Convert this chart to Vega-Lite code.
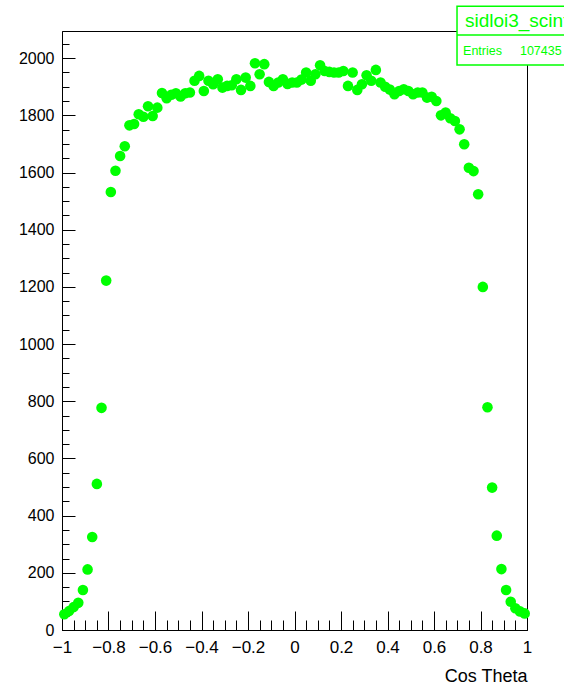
{
  "$schema": "https://vega.github.io/schema/vega-lite/v6.json",
  "width": 465,
  "height": 599,
  "autosize": {"type": "none"},
  "padding": {"left": 62, "top": 31, "right": 37, "bottom": 55},
  "background": "white",
  "config": {
    "view": {"stroke": "black", "strokeWidth": 1},
    "font": "Liberation Sans",
    "axis": {"domainColor": "black", "tickColor": "black", "labelColor": "black", "titleColor": "black", "grid": false, "labelFont": "Liberation Sans", "titleFont": "Liberation Sans"}
  },
  "datasets": {
    "hist": [
      {"x": -0.99, "n": 55}, {"x": -0.97, "n": 66}, {"x": -0.95, "n": 80}, {"x": -0.93, "n": 95}, {"x": -0.91, "n": 140},
      {"x": -0.89, "n": 212}, {"x": -0.87, "n": 325}, {"x": -0.85, "n": 511}, {"x": -0.83, "n": 777}, {"x": -0.81, "n": 1222},
      {"x": -0.79, "n": 1532}, {"x": -0.77, "n": 1606}, {"x": -0.75, "n": 1658}, {"x": -0.73, "n": 1692}, {"x": -0.71, "n": 1765},
      {"x": -0.69, "n": 1770}, {"x": -0.67, "n": 1804}, {"x": -0.65, "n": 1795}, {"x": -0.63, "n": 1832}, {"x": -0.61, "n": 1798},
      {"x": -0.59, "n": 1827}, {"x": -0.57, "n": 1878}, {"x": -0.55, "n": 1860}, {"x": -0.53, "n": 1872}, {"x": -0.51, "n": 1877},
      {"x": -0.49, "n": 1866}, {"x": -0.47, "n": 1877}, {"x": -0.45, "n": 1880}, {"x": -0.43, "n": 1921}, {"x": -0.41, "n": 1938},
      {"x": -0.39, "n": 1885}, {"x": -0.37, "n": 1921}, {"x": -0.35, "n": 1909}, {"x": -0.33, "n": 1926}, {"x": -0.31, "n": 1897},
      {"x": -0.29, "n": 1903}, {"x": -0.27, "n": 1905}, {"x": -0.25, "n": 1926}, {"x": -0.23, "n": 1889}, {"x": -0.21, "n": 1932},
      {"x": -0.19, "n": 1903}, {"x": -0.17, "n": 1982}, {"x": -0.15, "n": 1944}, {"x": -0.13, "n": 1979}, {"x": -0.11, "n": 1917},
      {"x": -0.09, "n": 1903}, {"x": -0.07, "n": 1915}, {"x": -0.05, "n": 1926}, {"x": -0.03, "n": 1910}, {"x": -0.01, "n": 1915},
      {"x": 0.01, "n": 1915}, {"x": 0.03, "n": 1925}, {"x": 0.05, "n": 1950}, {"x": 0.07, "n": 1921}, {"x": 0.09, "n": 1944},
      {"x": 0.11, "n": 1975}, {"x": 0.13, "n": 1955}, {"x": 0.15, "n": 1952}, {"x": 0.17, "n": 1950}, {"x": 0.19, "n": 1950},
      {"x": 0.21, "n": 1955}, {"x": 0.23, "n": 1903}, {"x": 0.25, "n": 1950}, {"x": 0.27, "n": 1889}, {"x": 0.29, "n": 1909},
      {"x": 0.31, "n": 1940}, {"x": 0.33, "n": 1921}, {"x": 0.35, "n": 1959}, {"x": 0.37, "n": 1915}, {"x": 0.39, "n": 1900},
      {"x": 0.41, "n": 1890}, {"x": 0.43, "n": 1874}, {"x": 0.45, "n": 1885}, {"x": 0.47, "n": 1891}, {"x": 0.49, "n": 1885},
      {"x": 0.51, "n": 1874}, {"x": 0.53, "n": 1880}, {"x": 0.55, "n": 1880}, {"x": 0.57, "n": 1862}, {"x": 0.59, "n": 1865},
      {"x": 0.61, "n": 1850}, {"x": 0.63, "n": 1800}, {"x": 0.65, "n": 1810}, {"x": 0.67, "n": 1790}, {"x": 0.69, "n": 1780},
      {"x": 0.71, "n": 1751}, {"x": 0.73, "n": 1699}, {"x": 0.75, "n": 1617}, {"x": 0.77, "n": 1605}, {"x": 0.79, "n": 1524},
      {"x": 0.81, "n": 1200}, {"x": 0.83, "n": 779}, {"x": 0.85, "n": 498}, {"x": 0.87, "n": 330}, {"x": 0.89, "n": 213},
      {"x": 0.91, "n": 140}, {"x": 0.93, "n": 99}, {"x": 0.95, "n": 76}, {"x": 0.97, "n": 65}, {"x": 0.99, "n": 58}
    ]
  },
  "layer": [
    {
      "data": {"name": "hist"},
      "mark": {"type": "point", "opacity": 0},
      "encoding": {
        "x": {"field": "x", "type": "quantitative", "scale": {"domain": [-1, 1], "nice": false, "zero": false},
              "axis": {"orient": "bottom", "values": [-1,-0.95,-0.9,-0.85,-0.8,-0.75,-0.7,-0.65,-0.6,-0.55,-0.5,-0.45,-0.4,-0.35,-0.3,-0.25,-0.2,-0.15,-0.1,-0.05,0,0.05,0.1,0.15,0.2,0.25,0.3,0.35,0.4,0.45,0.5,0.55,0.6,0.65,0.7,0.75,0.8,0.85,0.9,0.95,1],
                       "labels": false, "domain": false, "tickSize": -10, "title": null}},
        "y": {"field": "n", "type": "quantitative", "scale": {"domain": [0, 2095], "nice": false},
              "axis": {"orient": "left", "values": [0,50,100,150,200,250,300,350,400,450,500,550,600,650,700,750,800,850,900,950,1000,1050,1100,1150,1200,1250,1300,1350,1400,1450,1500,1550,1600,1650,1700,1750,1800,1850,1900,1950,2000,2050],
                       "labels": false, "domain": false, "tickSize": -7, "title": null}}
      }
    },
    {
      "data": {"name": "hist"},
      "mark": {"type": "point", "filled": true, "color": "#00ff00", "size": 112, "opacity": 1},
      "encoding": {
        "x": {"field": "x", "type": "quantitative", "scale": {"domain": [-1, 1], "nice": false, "zero": false},
              "axis": {"orient": "bottom", "values": [-1,-0.8,-0.6,-0.4,-0.2,0,0.2,0.4,0.6,0.8,1], "format": "~g",
                       "tickSize": -19, "labelPadding": 28, "labelFontSize": 17, "labelFlush": false,
                       "title": "Cos Theta", "titleFontSize": 18, "titleFontWeight": "normal", "titleAlign": "right", "titleBaseline": "alphabetic", "titleX": 465, "titleY": 51}},
        "y": {"field": "n", "type": "quantitative", "scale": {"domain": [0, 2095], "nice": false},
              "axis": {"orient": "left", "values": [0,200,400,600,800,1000,1200,1400,1600,1800,2000], "format": "d",
                       "tickSize": -13, "labelPadding": 21, "labelFontSize": 16, "labelFlush": false, "title": null}}
      }
    },
    {
      "data": {"values": [{"box": "stats"}]},
      "mark": {"type": "rect", "fill": "white", "stroke": "#00ff00", "strokeWidth": 1.5},
      "encoding": {
        "x": {"datum": 0.699, "type": "quantitative", "scale": {"domain": [-1, 1], "nice": false, "zero": false}, "axis": null},
        "x2": {"datum": 1.3},
        "y": {"datum": 2182, "type": "quantitative", "scale": {"domain": [0, 2095], "nice": false}, "axis": null},
        "y2": {"datum": 1976}
      }
    },
    {
      "data": {"values": [{"box": "divider"}]},
      "mark": {"type": "rule", "stroke": "#00ff00", "strokeWidth": 1.5},
      "encoding": {
        "x": {"datum": 0.699, "type": "quantitative", "scale": {"domain": [-1, 1], "nice": false, "zero": false}, "axis": null},
        "x2": {"datum": 1.3},
        "y": {"datum": 2081, "type": "quantitative", "scale": {"domain": [0, 2095], "nice": false}, "axis": null}
      }
    },
    {
      "data": {"values": [{"label": "sidloi3_scint"}]},
      "mark": {"type": "text", "color": "#00ff00", "fontSize": 19, "align": "left", "baseline": "alphabetic", "font": "Liberation Sans"},
      "encoding": {
        "x": {"datum": 0.733, "type": "quantitative", "scale": {"domain": [-1, 1], "nice": false, "zero": false}, "axis": null},
        "y": {"datum": 2110, "type": "quantitative", "scale": {"domain": [0, 2095], "nice": false}, "axis": null},
        "text": {"field": "label"}
      }
    },
    {
      "data": {"values": [{"label": "Entries"}]},
      "mark": {"type": "text", "color": "#00ff00", "fontSize": 12.5, "align": "left", "baseline": "alphabetic", "font": "Liberation Sans"},
      "encoding": {
        "x": {"datum": 0.725, "type": "quantitative", "scale": {"domain": [-1, 1], "nice": false, "zero": false}, "axis": null},
        "y": {"datum": 2011, "type": "quantitative", "scale": {"domain": [0, 2095], "nice": false}, "axis": null},
        "text": {"field": "label"}
      }
    },
    {
      "data": {"values": [{"label": "107435"}]},
      "mark": {"type": "text", "color": "#00ff00", "fontSize": 12.5, "align": "right", "baseline": "alphabetic", "font": "Liberation Sans"},
      "encoding": {
        "x": {"datum": 1.149, "type": "quantitative", "scale": {"domain": [-1, 1], "nice": false, "zero": false}, "axis": null},
        "y": {"datum": 2011, "type": "quantitative", "scale": {"domain": [0, 2095], "nice": false}, "axis": null},
        "text": {"field": "label"}
      }
    }
  ],
  "resolve": {"axis": {"x": "independent", "y": "independent"}}
}
